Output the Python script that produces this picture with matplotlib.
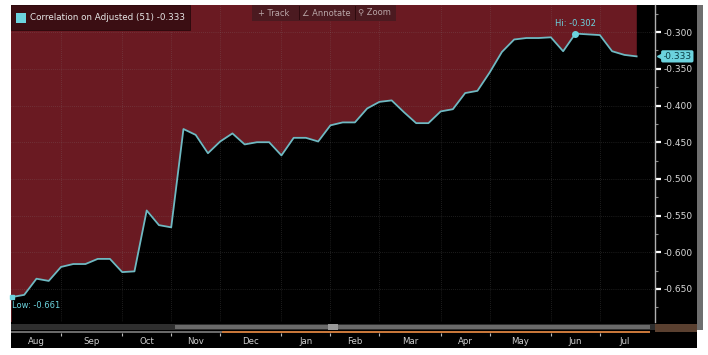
import matplotlib
matplotlib.use("Agg")
import matplotlib.pyplot as plt
from matplotlib.patches import Rectangle
import matplotlib.transforms as mtransforms

# weekly correlation values (51-period), Aug .. Jul
weeks = list(range(52))
corr = [-0.661, -0.658, -0.636, -0.639, -0.620, -0.616, -0.616, -0.609, -0.609, -0.627,
        -0.626, -0.543, -0.563, -0.566, -0.432, -0.440, -0.465, -0.449, -0.438, -0.453,
        -0.450, -0.450, -0.468, -0.444, -0.444, -0.449, -0.427, -0.423, -0.423, -0.404,
        -0.395, -0.393, -0.409, -0.424, -0.424, -0.408, -0.405, -0.383, -0.380, -0.355,
        -0.327, -0.310, -0.308, -0.308, -0.307, -0.326, -0.302, -0.303, -0.304, -0.326,
        -0.331, -0.333]
months = ["Aug", "Sep", "Oct", "Nov", "Dec", "Jan", "Feb", "Mar", "Apr", "May", "Jun", "Jul"]
month_start = [0, 4, 9, 13, 17, 22, 26, 30, 35, 39, 44, 48, 52]
yticks = [-0.300, -0.350, -0.400, -0.450, -0.500, -0.550, -0.600, -0.650]

W, H = 708, 355
RED = "#6a1a22"
CYAN = "#6cd3de"
LINE = "#6fb9c2"


def fx(x):
    return x / W


def fy(y):
    return 1 - y / H


fig = plt.figure(figsize=(W / 100, H / 100), dpi=100)
fig.patch.set_facecolor("white")

# black frame behind everything
fig.add_artist(Rectangle((fx(11), fy(348)), (697 - 11) / W, (348 - 5) / H,
                         transform=fig.transFigure, fc="black", ec="none", zorder=-5))
# grey strip at far right
fig.add_artist(Rectangle((fx(697), fy(330)), 6 / W, (330 - 5) / H,
                         transform=fig.transFigure, fc="#6e6e6e", ec="none", zorder=-4))

ax = fig.add_axes([fx(11), fy(322), (655 - 11) / W, (322 - 5) / H])
ymin, ymax = -0.695, -0.263
ax.set_facecolor(RED)
ax.set_xlim(-0.08, 52.5)
ax.set_ylim(ymin, ymax)

ax.fill_between(weeks, corr, ymin, color="black", zorder=1)
ax.axvspan(weeks[-1], 52.5, color="black", zorder=1)
ax.plot(weeks, corr, color=LINE, lw=1.3, zorder=3)

# grid
for b in month_start[1:-1]:
    ax.axvline(b, color="#8a8a8a", lw=0.5, ls=(0, (1, 2)), alpha=0.4, zorder=2)
for t in yticks:
    ax.axhline(t, color="#8a8a8a", lw=0.5, ls=(0, (1, 2)), alpha=0.4, zorder=2)

# hi / low markers
i_hi = corr.index(max(corr))
i_lo = corr.index(min(corr))
ax.plot(weeks[i_hi], corr[i_hi], "o", ms=4, color=CYAN, zorder=4)
ax.text(weeks[i_hi], corr[i_hi] + 0.007, "Hi: %.3f" % corr[i_hi], color=CYAN,
        fontsize=6, ha="center", va="bottom", zorder=5)
ax.plot(weeks[i_lo], corr[i_lo], "s", ms=3.5, color=CYAN, zorder=4, clip_on=False)
ax.text(weeks[i_lo], corr[i_lo] - 0.006, "Low: %.3f" % corr[i_lo], color=CYAN,
        fontsize=6, ha="left", va="top", zorder=5)

# right axis
ax.yaxis.tick_right()
ax.set_yticks(yticks)
ax.set_yticklabels(["%.3f" % t for t in yticks])
ax.set_yticks([t - 0.025 for t in yticks] + [yticks[0] + 0.025], minor=True)
ax.tick_params(axis="y", which="major", colors="white", length=4, width=1.6,
               labelsize=6.5, labelcolor="#d8d8d8", pad=2)
ax.tick_params(axis="y", which="minor", colors="#888888", length=2, width=0.8)
ax.set_xticks([])
for s in ["top", "bottom", "left"]:
    ax.spines[s].set_visible(False)
ax.spines["right"].set_color("#b0b0b0")
ax.spines["right"].set_linewidth(1.0)

# current value tag
trans = mtransforms.blended_transform_factory(ax.transAxes, ax.transData)
ax.text(1.012, corr[-1], "%.3f" % corr[-1], transform=trans, color="#0b3c44",
        fontsize=6.5, ha="left", va="center", zorder=6, clip_on=False,
        bbox=dict(boxstyle="round,pad=0.18,rounding_size=0.2", fc=CYAN, ec="none"))
ax.plot([1.008], [corr[-1]], marker="<", ms=5, color=CYAN, transform=trans,
        clip_on=False, zorder=6)

# legend box
fig.add_artist(Rectangle((fx(11), fy(30)), (190 - 11) / W, 25 / H,
                         transform=fig.transFigure, fc="#3b0e13", ec="#2a090c",
                         lw=0.6, zorder=5))
fig.add_artist(Rectangle((fx(16), fy(23)), 10 / W, 10 / H,
                         transform=fig.transFigure, fc=CYAN, ec="none", zorder=6))
fig.text(fx(30), fy(18), "Correlation on Adjusted (51) %.3f" % corr[-1],
         color="#e6e6e6", fontsize=6.3, ha="left", va="center", zorder=6)

# toolbar
fig.add_artist(Rectangle((fx(252), fy(21)), (396 - 252) / W, 16 / H,
                         transform=fig.transFigure, fc="#4b1a20", ec="none", zorder=5))
for xpos, lab in [(258, "+ Track"), (302, "\u2220 Annotate"), (358, "\u26b2 Zoom")]:
    fig.text(fx(xpos), fy(13), lab, color="#b9a6a8", fontsize=6, ha="left",
             va="center", zorder=6, family=["DejaVu Sans", "Noto Sans"])
for xsep in [299, 355]:
    fig.add_artist(Rectangle((fx(xsep), fy(20)), 1 / W, 14 / H,
                             transform=fig.transFigure, fc="#2e0a0e", ec="none", zorder=6))

# scroll bar
fig.add_artist(Rectangle((fx(11), fy(330)), (697 - 11) / W, 6 / H,
                         transform=fig.transFigure, fc="#2f2f2f", ec="none", zorder=1))
fig.add_artist(Rectangle((fx(175), fy(329)), (650 - 175) / W, 4 / H,
                         transform=fig.transFigure, fc="#6a6a6a", ec="none", zorder=2))
fig.add_artist(Rectangle((fx(328), fy(330)), 10 / W, 6 / H,
                         transform=fig.transFigure, fc="#9a9a9a", ec="none", zorder=3))
fig.add_artist(Rectangle((fx(11), fy(332.5)), (222 - 11) / W, 1.2 / H,
                         transform=fig.transFigure, fc="#6a6a6a", ec="none", zorder=2))
fig.add_artist(Rectangle((fx(222), fy(332.5)), (650 - 222) / W, 1.2 / H,
                         transform=fig.transFigure, fc="#c8773a", ec="none", zorder=2))
fig.add_artist(Rectangle((fx(655), fy(332)), (697 - 655) / W, 8 / H,
                         transform=fig.transFigure, fc="#5a4030", ec="none", zorder=2))

# month axis
sax = fig.add_axes([fx(11), fy(348), (655 - 11) / W, (348 - 333) / H], sharex=ax)
sax.set_facecolor("black")
sax.set_ylim(0, 1)
sax.set_yticks([])
for s in sax.spines.values():
    s.set_visible(False)
sax.tick_params(axis="x", which="both", bottom=False, top=True, direction="in",
                length=2.5, width=0.8, colors="#bbbbbb", labelbottom=False)
sax.set_xticks(month_start[1:-1])
for k, m in enumerate(months):
    c = (month_start[k] + month_start[k + 1]) / 2
    sax.text(c, 0.4, m, color="#cfcfcf", fontsize=6.2, ha="center", va="center")
sax.set_xlim(-0.08, 52.5)

fig.savefig("out.png", dpi=100, facecolor="white")
